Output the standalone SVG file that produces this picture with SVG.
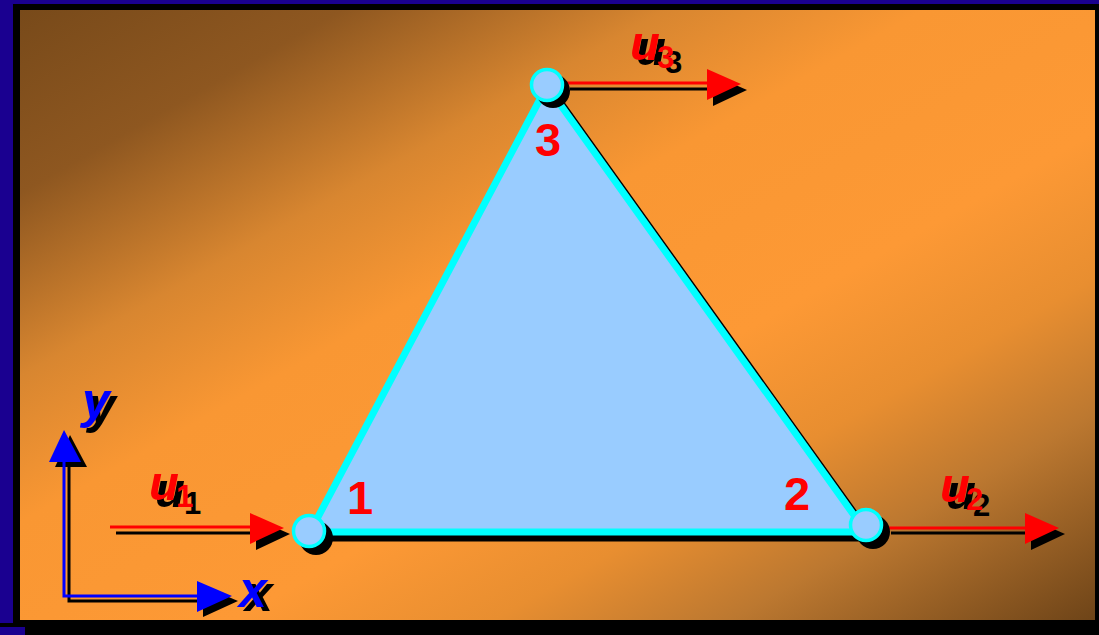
<svg xmlns="http://www.w3.org/2000/svg" width="1099" height="635" viewBox="0 0 1099 635">
  <defs>
    <linearGradient id="bg" x1="0" y1="0" x2="1" y2="1">
      <stop offset="0" stop-color="#784a1a"/>
      <stop offset="0.15" stop-color="#8e5720"/>
      <stop offset="0.3" stop-color="#d88630"/>
      <stop offset="0.42" stop-color="#f99733"/>
      <stop offset="0.6" stop-color="#fd9935"/>
      <stop offset="0.72" stop-color="#e88e30"/>
      <stop offset="0.83" stop-color="#bc7830"/>
      <stop offset="1" stop-color="#6e4418"/>
    </linearGradient>
    <style>
      .redline{stroke:#ff0000;stroke-width:3;fill:none}
      .redhead{fill:#ff0000}
      .blueline{stroke:#0000ff;stroke-width:3;fill:none}
      .bluehead{fill:#0000ff}
      .shline{stroke:#000;stroke-width:3;fill:none}
      .shhead{fill:#000}
      .num{font-family:"Liberation Sans",Arial,sans-serif;font-weight:bold;font-size:47px;fill:#ff0000;text-anchor:middle}
      .u{font-family:"Liberation Sans",Arial,sans-serif;font-weight:bold;font-style:italic;font-size:49px}
      .sub{font-family:"Liberation Sans",Arial,sans-serif;font-weight:bold;font-size:31px}
      .ax{font-family:"Liberation Sans",Arial,sans-serif;font-weight:bold;font-style:italic;font-size:50px}
      .node{fill:#99ccff;stroke:#00ffff;stroke-width:3.5}
      .nodesh{fill:#000}
    </style>
  </defs>

  <!-- frame -->
  <rect x="0" y="0" width="1099" height="635" fill="#1a0090"/>
  <rect x="13" y="4" width="1086" height="623" fill="#000"/>
  <rect x="25" y="10" width="1074" height="625" fill="#000"/>
  <rect x="0" y="623" width="13" height="4" fill="#000"/>
  <rect x="20" y="10" width="1075" height="610" fill="url(#bg)"/>

  <!-- element -->
  <g id="element">
    <polygon points="316,538 872,538 553,92" fill="#000" stroke="#000" stroke-width="7" stroke-linejoin="round"/>
    <polygon points="310,532 866,532 547,86" fill="#99ccff" stroke="#00ffff" stroke-width="7" stroke-linejoin="round"/>
  </g>

  <!-- connectors -->
  <g id="connectors">
    <!-- u1 -->
    <line class="shline" x1="116" y1="533" x2="258" y2="533"/>
    <polygon class="shhead" points="256,519 290,534 256,550"/>
    <line class="redline" x1="110" y1="527" x2="252" y2="527"/>
    <polygon class="redhead" points="250,513 284,528 250,544"/>
    <!-- u2 -->
    <line class="shline" x1="891" y1="533" x2="1034" y2="533"/>
    <polygon class="shhead" points="1031,519 1065,534 1031,550"/>
    <line class="redline" x1="883" y1="528" x2="1028" y2="528"/>
    <polygon class="redhead" points="1025,513 1059,528 1025,544"/>
    <!-- u3 -->
    <line class="shline" x1="570" y1="89" x2="715" y2="89"/>
    <polygon class="shhead" points="713,75 747,90 713,106"/>
    <line class="redline" x1="563" y1="83" x2="710" y2="83"/>
    <polygon class="redhead" points="707,69 741,84 707,100"/>
    <!-- axes -->
    <polyline class="shline" points="69,465 69,601 205,601"/>
    <polygon class="shhead" points="55,467 70,435 87,467"/>
    <polygon class="shhead" points="203,586 238,601 203,617"/>
    <polyline class="blueline" points="64,460 64,596 200,596"/>
    <polygon class="bluehead" points="49,462 64,430 81,462"/>
    <polygon class="bluehead" points="197,581 232,596 197,612"/>
  </g>

  <!-- nodes -->
  <g id="node1">
    <circle class="nodesh" cx="316" cy="538" r="17"/>
    <circle class="node" cx="309" cy="531" r="15.5"/>
    <text class="num" x="360" y="514">1</text>
  </g>
  <g id="node2">
    <circle class="nodesh" cx="873" cy="532" r="17"/>
    <circle class="node" cx="866" cy="525" r="15.5"/>
    <text class="num" x="797" y="510">2</text>
  </g>
  <g id="node3">
    <circle class="nodesh" cx="553" cy="91" r="17"/>
    <circle class="node" cx="547" cy="85" r="15.5"/>
    <text class="num" x="548" y="156">3</text>
  </g>

  <!-- labels -->
  <g id="label-u1">
    <text class="u" x="155" y="507" fill="#000">u</text>
    <text class="sub" x="184" y="514" fill="#000">1</text>
    <text class="u" x="149" y="500" fill="#ff0000">u</text>
    <text class="sub" x="176" y="507" fill="#ff0000">1</text>
  </g>
  <g id="label-u2">
    <text class="u" x="946" y="509" fill="#000">u</text>
    <text class="sub" x="973" y="516" fill="#000">2</text>
    <text class="u" x="940" y="502" fill="#ff0000">u</text>
    <text class="sub" x="966" y="510" fill="#ff0000">2</text>
  </g>
  <g id="label-u3">
    <text class="u" x="636" y="65" fill="#000">u</text>
    <text class="sub" x="665" y="73" fill="#000">3</text>
    <text class="u" x="630" y="60" fill="#ff0000">u</text>
    <text class="sub" x="657" y="68" fill="#ff0000">3</text>
  </g>
  <g id="label-x">
    <text class="ax" x="245" y="611" fill="#000">x</text>
    <text class="ax" x="239" y="607" fill="#0000ff">x</text>
  </g>
  <g id="label-y">
    <text class="ax" x="88" y="423" fill="#000">y</text>
    <text class="ax" x="82" y="418" fill="#0000ff">y</text>
  </g>
</svg>
